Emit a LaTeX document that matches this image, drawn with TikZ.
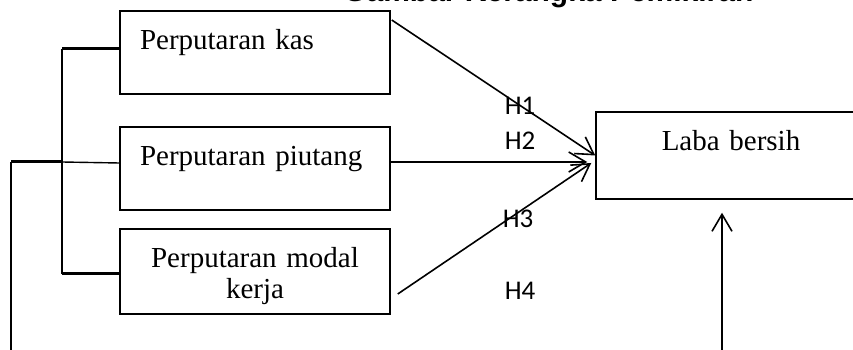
\documentclass[tikz,border=0pt]{standalone}
\usepackage{fontspec}
\newfontfamily\boxfont{Liberation Serif}
\newfontfamily\hypfont{Carlito}
\newfontfamily\headfont{Liberation Sans}
\usepackage{tikz}
\usetikzlibrary{arrows.meta,positioning,calc}

\tikzset{
  var/.style={draw, line width=1.5pt, minimum width=270pt, inner xsep=20pt, inner ysep=0pt,
    text width=230pt, font=\boxfont\fontsize{29}{31}\selectfont},
  hyp/.style={font=\hypfont\fontsize{27}{27}\selectfont, inner sep=0pt},
  arr/.style={-{Straight Barb[length=17pt,width=20pt]}, line width=1.6pt},
}

\begin{document}
\begin{tikzpicture}[x=1pt,y=1pt,node distance=116pt,on grid]
    \useasboundingbox (0,0) rectangle (853,350);
    \clip (0,0) rectangle (853,350);
    % title, only its lower edge shows
    \node[anchor=base east, font=\headfont\bfseries\fontsize{30}{30}\selectfont] (title) at (757,348.5) {Gambar Kerangka Pemikiran};

    \node[var, minimum height=83pt, align=left, text depth=26pt] (kas) at (255,297.5) {Perputaran kas};
    \node[var, minimum height=83pt, align=left, text depth=26pt] (piutang) [below=of kas] {Perputaran piutang};
    \node[var, minimum height=85pt, align=center, text height=30pt, text depth=37pt] (modal) [below=103pt of piutang] {Perputaran modal\\kerja};
    \node[var, minimum height=87pt, align=center, text depth=31pt] (laba) at (731,194.5) {Laba bersih};

    % bracket on the left
    \coordinate (jtop) at (62,301);
    \coordinate (jmid) at (62,188);
    \coordinate (jbot) at (62,76);
    \coordinate (root) at (11,188);
    \coordinate (rootend) at (11,0);
    \draw[line width=2pt] (jtop) -- (jbot);
    \draw[line width=3pt] (jtop) -- (jtop -| kas.west);
    \draw[line width=1.4pt] (jmid) -- ($(piutang.west)+(0,5.5)$);
    \draw[line width=3pt] (jbot) -- (jbot -| modal.west);
    \draw[line width=3pt] (root) -- (jmid);
    \draw[line width=1.6pt] (root) -- (rootend);

    % hypotheses
    \draw[arr] ($(kas.east)+(1,32.5)$) -- (laba.west);
    \draw[arr] ($(piutang.east)+(0,6.5)$) -- ($(laba.west)+(-8,-6.5)$);
    \draw[arr] ($(modal.east)+(7,-22.5)$) -- ($(laba.west)+(-4,-7.5)$);
    \coordinate (ext) at (722,0);
    \draw[arr] (ext) -- ($(ext |- laba.south)+(0,-13)$);

    \node[hyp] (h1) at (520,244) {H1};
    \node[hyp] (h2) at (520,209) {H2};
    \node[hyp] (h3) at (518,131) {H3};
    \node[hyp] (h4) at (520,59) {H4};
\end{tikzpicture}
\end{document}
